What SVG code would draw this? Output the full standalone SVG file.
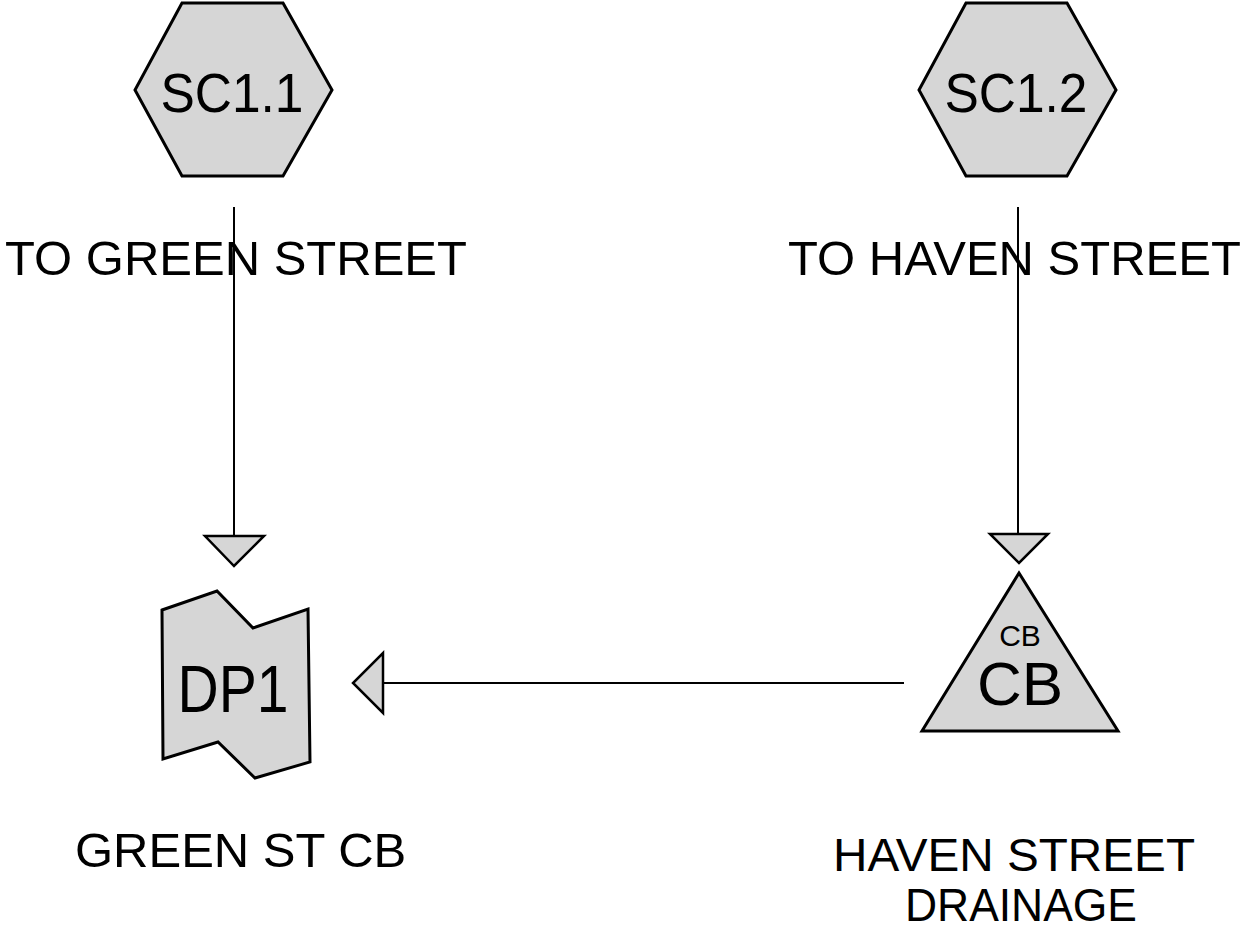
<svg xmlns="http://www.w3.org/2000/svg" width="1245" height="930" viewBox="0 0 1245 930">
<style>
.shape{fill:#d6d6d6;stroke:#000;stroke-width:3;stroke-linejoin:miter}
.head{fill:#d6d6d6;stroke:#000;stroke-width:2.5}
.conn{stroke:#000;stroke-width:2;fill:none}
text{font-family:"Liberation Sans",Arial,sans-serif;fill:#000}
.lbl{font-size:49px}
</style>
<rect width="1245" height="930" fill="#fff"/>
<g id="connectors">
<line class="conn" x1="234" y1="207" x2="234" y2="536"/>
<polygon class="head" points="205,536 264,536 234,566"/>
<line class="conn" x1="1018" y1="207" x2="1018" y2="534"/>
<polygon class="head" points="990,534 1048,534 1019,563"/>
<line class="conn" x1="904" y1="683" x2="383" y2="683"/>
<polygon class="head" points="383,653 383,713 353,683"/>
</g>
<g id="SC1.1">
<polygon class="shape" points="182,3 283,3 332,90 283,176 182,176 135,90"/>
<text x="232" y="112" font-size="55" text-anchor="middle" textLength="143" lengthAdjust="spacingAndGlyphs">SC1.1</text>
<text class="lbl" x="5" y="275">TO GREEN STREET</text>
</g>
<g id="SC1.2">
<polygon class="shape" points="966,3 1067,3 1116,90 1067,176 966,176 919,90"/>
<text x="1016" y="112" font-size="55" text-anchor="middle" textLength="143" lengthAdjust="spacingAndGlyphs">SC1.2</text>
<text class="lbl" x="788" y="275">TO HAVEN STREET</text>
</g>
<g id="DP1">
<polygon class="shape" points="162,610 217,591 253,628 308,609 310,762 255,778 218,742 163,759"/>
<text x="233" y="712" font-size="66" text-anchor="middle" textLength="111" lengthAdjust="spacingAndGlyphs">DP1</text>
<text class="lbl" x="75" y="867">GREEN ST CB</text>
</g>
<g id="CB">
<polygon class="shape" points="1019,573 1118,731 922,731"/>
<text x="1020" y="646" font-size="30" text-anchor="middle">CB</text>
<text x="1020" y="705" font-size="62" text-anchor="middle">CB</text>
<text x="1014" y="871" font-size="46" text-anchor="middle" textLength="362" lengthAdjust="spacingAndGlyphs">HAVEN STREET</text>
<text x="1021" y="921" font-size="46" text-anchor="middle" textLength="232" lengthAdjust="spacingAndGlyphs">DRAINAGE</text>
</g>
</svg>
